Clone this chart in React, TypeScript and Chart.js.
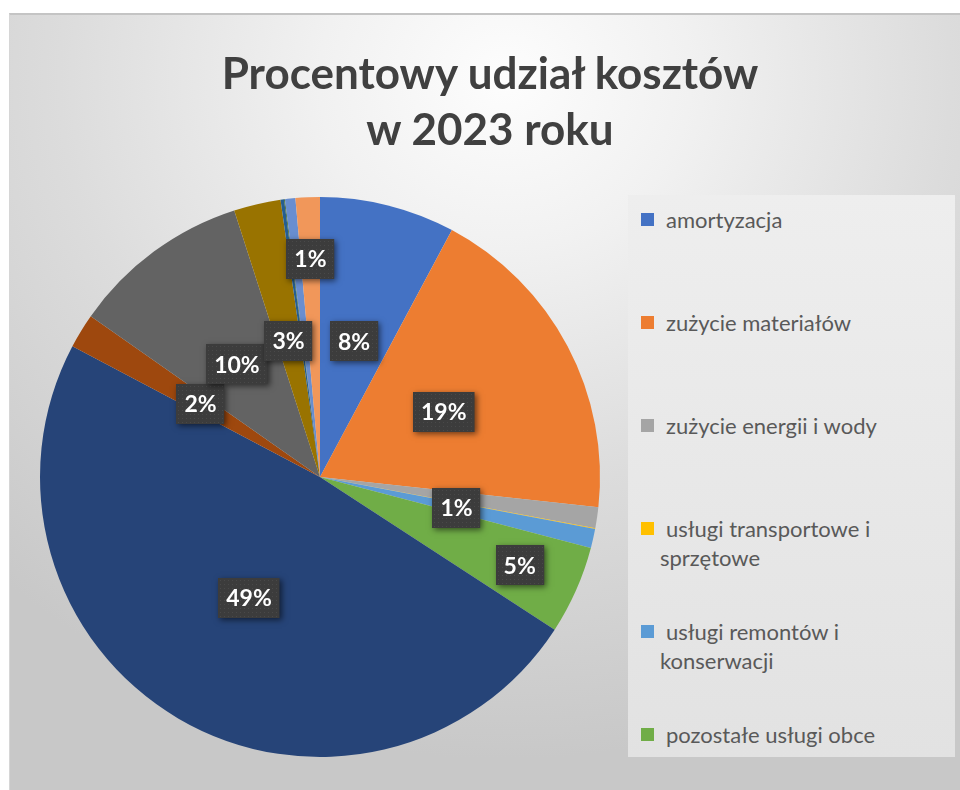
import React, { useEffect, useRef } from "react";
import { Chart, registerables } from "chart.js";

Chart.register(...registerables);

const titleLines = ["Procentowy udział kosztów", "w 2023 roku"];

const categories = [
  "amortyzacja",
  "zużycie materiałów",
  "zużycie energii i wody",
  "usługi transportowe i sprzętowe",
  "usługi remontów i konserwacji",
  "pozostałe usługi obce",
  "wynagrodzenia",
  "podatki i opłaty",
  "ubezpieczenia społeczne i inne świadczenia",
  "pozostałe koszty rodzajowe",
  "podróże służbowe",
  "reprezentacja i reklama",
  "ubezpieczenia majątkowe",
  "inne koszty",
];

const values = [7.8, 18.9, 1.2, 0.05, 1.1, 5.1, 48.5, 2.0, 10.3, 2.7, 0.2, 0.05, 0.6, 1.4];

const colors = [
  "#4472C4",
  "#ED7D31",
  "#A5A5A5",
  "#FFC000",
  "#5B9BD5",
  "#70AD47",
  "#264478",
  "#9E480E",
  "#636363",
  "#997300",
  "#255E91",
  "#43682B",
  "#698ED0",
  "#F1975A",
];

const legendCount = 6;
const hiddenLabels = [2, 3, 10, 11, 12];
const outerLabels = [5, 13];

const labelPlugin = {
  id: "boxLabels",
  afterDatasetsDraw(chart: any) {
    const ctx = chart.ctx;
    const meta = chart.getDatasetMeta(0);
    const data = chart.data.datasets[0].data as number[];
    const total = data.reduce((a, b) => a + b, 0);
    meta.data.forEach((arc: any, i: number) => {
      if (hiddenLabels.includes(i)) return;
      const p = arc.getProps(["x", "y", "startAngle", "endAngle", "outerRadius"], true);
      const mid = (p.startAngle + p.endAngle) / 2;
      const frac = outerLabels.includes(i) ? 0.78 : 0.5;
      const cx = p.x + Math.cos(mid) * p.outerRadius * frac;
      const cy = p.y + Math.sin(mid) * p.outerRadius * frac;
      const text = Math.round((data[i] / total) * 100) + "%";
      ctx.save();
      ctx.font = "bold 23px Lato";
      const tw = ctx.measureText(text).width;
      const w = tw + 16;
      const h = 40;
      const x0 = Math.round(cx - w / 2);
      const y0 = Math.round(cy - h / 2);
      ctx.shadowColor = "rgba(0,0,0,0.55)";
      ctx.shadowBlur = 6;
      ctx.shadowOffsetX = 2;
      ctx.shadowOffsetY = 2;
      ctx.fillStyle = "#3c3c3c";
      ctx.fillRect(x0, y0, w, h);
      ctx.shadowColor = "transparent";
      ctx.fillStyle = "rgba(255,255,255,0.07)";
      for (let yy = y0 + 2; yy < y0 + h; yy += 4) {
        for (let xx = x0 + 2; xx < x0 + w; xx += 4) {
          ctx.fillRect(xx, yy, 1, 1);
        }
      }
      ctx.fillStyle = "#ffffff";
      ctx.textAlign = "center";
      ctx.textBaseline = "middle";
      ctx.fillText(text, cx, cy + 1);
      ctx.restore();
    });
  },
};

export default function App() {
  const canvasRef = useRef<HTMLCanvasElement | null>(null);

  useEffect(() => {
    document.body.style.margin = "0";
    const canvas = canvasRef.current;
    if (!canvas) return;
    const chart = new Chart(canvas, {
      type: "pie",
      data: {
        labels: categories,
        datasets: [
          {
            data: values,
            backgroundColor: colors,
            borderWidth: 0,
          },
        ],
      },
      options: {
        responsive: false,
        animation: false,
        layout: { padding: { left: 40, right: 360, top: 197, bottom: 33 } },
        plugins: {
          legend: { display: false },
          title: { display: false },
          tooltip: { enabled: false },
        },
      },
      plugins: [labelPlugin],
    });
    return () => chart.destroy();
  }, []);

  return (
    <div
      style={{
        position: "relative",
        width: 960,
        height: 790,
        overflow: "hidden",
        background: "#ffffff",
        fontFamily: "Lato, sans-serif",
      }}
    >
      <div
        style={{
          position: "absolute",
          left: 9,
          top: 13,
          width: 990,
          height: 800,
          borderTop: "2px solid #c4c4c4",
          borderLeft: "1px solid #d6d6d6",
          background:
            "radial-gradient(ellipse 75% 85% at 50% 8%, #fdfdfd 0%, #f1f1f1 25%, #dcdcdc 60%, #c8c8c8 100%)",
        }}
      />
      <canvas
        ref={canvasRef}
        width={960}
        height={790}
        style={{ position: "absolute", left: 0, top: 0 }}
      />
      <div
        style={{
          position: "absolute",
          left: 9,
          top: 44,
          width: 962,
          textAlign: "center",
          fontFamily: "Lato, sans-serif",
          fontWeight: 700,
          fontSize: 44,
          lineHeight: "56px",
          color: "#404040",
        }}
      >
        {titleLines.map((t) => (
          <div key={t}>{t}</div>
        ))}
      </div>
      <div
        style={{
          position: "absolute",
          left: 628,
          top: 195,
          width: 327,
          height: 562,
          background: "linear-gradient(#eeeeee, #e2e2e2)",
        }}
      >
        {categories.slice(0, legendCount).map((c, i) => (
          <div
            key={c}
            style={{
              position: "absolute",
              left: 32,
              top: 10 + i * 103,
              width: 275,
              fontSize: 22,
              lineHeight: "29px",
              color: "#595959",
              textIndent: 6,
            }}
          >
            <span
              style={{
                position: "absolute",
                left: -19,
                top: 8,
                width: 13,
                height: 13,
                background: colors[i],
              }}
            />
            {c}
          </div>
        ))}
      </div>
    </div>
  );
}
